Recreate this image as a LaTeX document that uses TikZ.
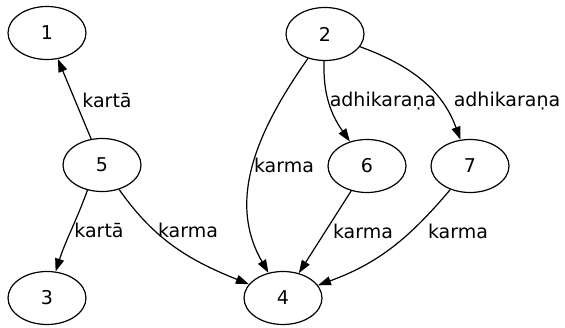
\documentclass[tikz,border=0pt]{standalone}
\usepackage{fontspec}
\setmainfont{DejaVu Sans}
\usetikzlibrary{arrows.meta,shapes.geometric}

\begin{document}
\begin{tikzpicture}[x=0.5pt, y=0.5pt, font=\fontsize{9.5}{11}\selectfont,
        word/.style={ellipse, draw, line width=0.6pt, minimum width=39pt, minimum height=26.5pt, inner sep=0pt},
        rel/.style={line width=0.6pt, -{Triangle[length=6.5pt, width=4.5pt]}},
        tag/.style={inner sep=0pt}]
        \useasboundingbox (0, 0) rectangle (565, 327);

        % Words
        \node[word] (n1) at (47, 294) {1};
        \node[word] (n2) at (325, 293) {2};
        \node[word] (n5) at (102, 162) {5};
        \node[word] (n6) at (367, 161) {6};
        \node[word] (n7) at (470, 161) {7};
        \node[word] (n3) at (47, 29) {3};
        \node[word] (n4) at (283, 29) {4};

        % Relations
        \draw[rel] (n5) -- (n1);
        \draw[rel] (n5.240) to[out=-110, in=72] (n3);
        \draw[rel] (n5) to[out=-55, in=158] (n4);
        \draw[rel] (n2) to[out=-125, in=120] (n4);
        \draw[rel] (n2) to[out=-92, in=125] (n6);
        \draw[rel] (n2) to[out=-20, in=110] (n7);
        \draw[rel] (n6) -- (n4);
        \draw[rel] (n7) to[out=-130, in=20] (n4);

        % Labels
        \node[tag] (l51) at (107, 227) {kartā};
        \node[tag] (l53) at (99, 97) {kartā};
        \node[tag] (l54) at (188, 97) {karma};
        \node[tag] (l24) at (284, 162) {karma};
        \node[tag] (l26) at (383, 226) {adhikaraṇa};
        \node[tag] (l27) at (507, 226) {adhikaraṇa};
        \node[tag] (l64) at (363, 96) {karma};
        \node[tag] (l74) at (458, 96) {karma};
\end{tikzpicture}
\end{document}
